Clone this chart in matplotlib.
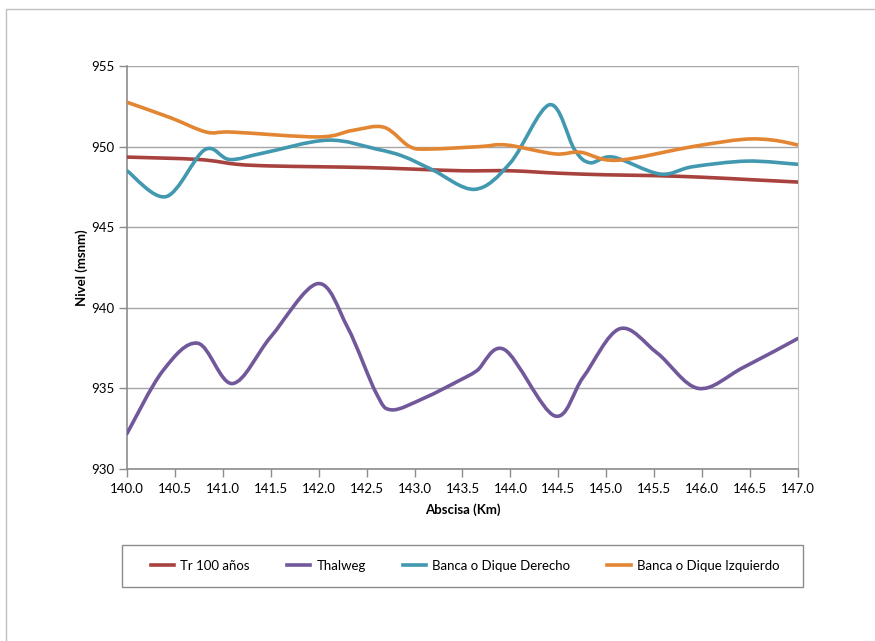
import numpy as np
import matplotlib
matplotlib.use("Agg")
import matplotlib.pyplot as plt
from matplotlib.path import Path
from matplotlib.patches import PathPatch, Rectangle
from matplotlib.lines import Line2D

plt.rcParams['font.family'] = ['Lato', 'DejaVu Sans']

# values (km, msnm)
tr100_x = [140.0, 140.75, 141.15, 141.5, 142.0, 142.5, 143.0, 143.5, 144.0, 144.5, 145.0, 145.5, 146.0, 146.5, 147.0]
tr100_y = [949.35, 949.2, 948.9, 948.8, 948.75, 948.7, 948.6, 948.5, 948.5, 948.35, 948.25, 948.2, 948.1, 947.95, 947.8]

thalweg_x = [140.0, 140.375, 140.74, 141.1, 141.5, 141.99, 142.3, 142.6, 142.76, 143.1, 143.47, 143.65, 143.94,
             144.46, 144.76, 145.14, 145.53, 145.96, 146.43, 147.0]
thalweg_y = [932.2, 936.1, 937.8, 935.3, 938.2, 941.5, 938.8, 934.7, 933.67, 934.4, 935.5, 936.1, 937.4,
             933.3, 935.7, 938.7, 937.2, 935.0, 936.3, 938.1]

derecho_x = [140.0, 140.41, 140.81, 141.07, 141.42, 142.09, 142.6, 142.88, 143.19, 143.63, 144.0, 144.41,
             144.67, 144.83, 145.07, 145.56, 145.9, 146.47, 147.0]
derecho_y = [948.5, 946.9, 949.8, 949.2, 949.6, 950.4, 949.85, 949.4, 948.55, 947.35, 949.0, 952.6,
             949.8, 949.0, 949.35, 948.3, 948.75, 949.1, 948.9]

izquierdo_x = [140.0, 140.45, 140.83, 141.1, 142.0, 142.35, 142.68, 142.95, 143.16, 143.68, 143.96, 144.46,
               144.73, 145.11, 145.9, 146.43, 146.74, 147.0]
izquierdo_y = [952.75, 951.8, 950.9, 950.9, 950.6, 951.0, 951.2, 950.0, 949.85, 950.0, 950.1, 949.55,
               949.65, 949.15, 950.0, 950.45, 950.4, 950.1]

series = [
    ("Tr 100 años", tr100_x, tr100_y, "#A8423F"),
    ("Thalweg", thalweg_x, thalweg_y, "#71589A"),
    ("Banca o Dique Derecho", derecho_x, derecho_y, "#4298AF"),
    ("Banca o Dique Izquierdo", izquierdo_x, izquierdo_y, "#E38633"),
]


def smooth_path(x, y):
    # excel style smoothed line: cubic bezier through each point
    p = np.column_stack([x, y]).astype(float)
    n = len(p)
    verts = [p[0]]
    codes = [Path.MOVETO]
    for i in range(n - 1):
        p0 = p[i - 1] if i > 0 else p[i]
        p3 = p[i + 2] if i + 2 < n else p[i + 1]
        c1 = p[i] + (p[i + 1] - p0) / 6.0
        c2 = p[i + 1] - (p3 - p[i]) / 6.0
        verts += [c1, c2, p[i + 1]]
        codes += [Path.CURVE4] * 3
    return Path(verts, codes)


fig = plt.figure(figsize=(8.75, 6.41), dpi=100)
W, H = 875, 641

# chart area frame
fig.patches.append(Rectangle((6 / W, -0.1), 1.2, 1.1 - 9 / H, transform=fig.transFigure,
                             fill=False, edgecolor="#BFBFBF", lw=1.0))

ax = fig.add_axes([127 / W, 1 - 469 / H, (798 - 127) / W, (469 - 66) / H])

for label, x, y, color in series:
    ax.add_patch(PathPatch(smooth_path(x, y), facecolor="none", edgecolor=color, lw=2.6,
                           capstyle="round", joinstyle="round", zorder=3))

ax.set_xlim(140, 147)
ax.set_ylim(930, 955)
ax.set_xticks(np.arange(140, 147.01, 0.5))
ax.set_xticklabels([f"{v:.1f}" for v in np.arange(140, 147.01, 0.5)])
ax.set_yticks(np.arange(930, 956, 5))
ax.yaxis.grid(True, color="#A6A6A6", lw=1.0)
ax.set_axisbelow(True)

for s in ["left", "bottom"]:
    ax.spines[s].set_color("#8C8C8C")
    ax.spines[s].set_linewidth(1.2)
ax.spines["right"].set_color("#BFBFBF")
ax.spines["top"].set_visible(False)
ax.tick_params(axis="both", direction="out", length=6, width=1.0, color="#8C8C8C",
               labelsize=9.5, labelcolor="black")
ax.tick_params(axis="x", pad=4)
ax.tick_params(axis="y", pad=3)

ax.set_xlabel("Abscisa (Km)", fontsize=9.5, fontweight="bold", labelpad=6)
ax.set_ylabel("Nivel (msnm)", fontsize=9.5, fontweight="bold", labelpad=2)

# legend box
fig.patches.append(Rectangle((122 / W, 1 - 587 / H), 681 / W, 42 / H, transform=fig.transFigure,
                             fill=False, edgecolor="#8C8C8C", lw=1.0))
handles = [Line2D([], [], color=c, lw=2.6) for _, _, _, c in series]
labels = [s[0] for s in series]
fig.legend(handles, labels, loc="center", bbox_to_anchor=(465 / W, 1 - 566 / H), ncol=4,
           frameon=False, fontsize=9.5, handlelength=1.8, handletextpad=0.45, columnspacing=2.8)

fig.savefig("out.png", dpi=100)
